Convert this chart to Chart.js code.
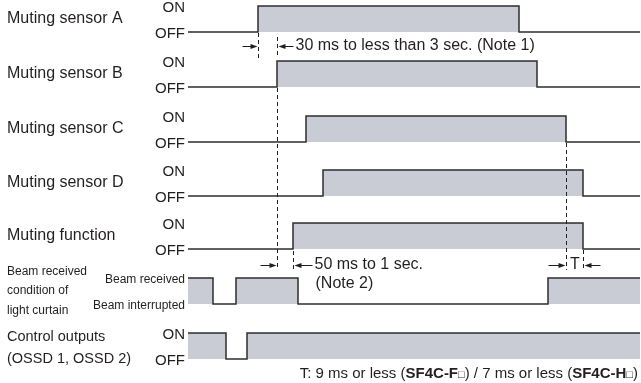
<!DOCTYPE html>
<html>
<head>
<meta charset="utf-8">
<script src="https://cdn.jsdelivr.net/npm/chart.js@4/dist/chart.umd.min.js"></script>
<style>
  html, body { margin: 0; padding: 0; background: #fff; }
  #wrap { width: 641px; height: 383px; }
</style>
</head>
<body>
<div id="wrap"><canvas id="timing"></canvas></div>
<script>
// row names (left column) and level names (next to each trace)
const rowNames = [
    'Muting sensor A', 'Muting sensor B', 'Muting sensor C', 'Muting sensor D', 'Muting function',
    ['Beam received', 'condition of', 'light curtain'],
    ['Control outputs', '(OSSD 1, OSSD 2)']
];
const levelLabels = ['ON', 'OFF', 'ON', 'OFF', 'ON', 'OFF', 'ON', 'OFF', 'ON', 'OFF',
    'Beam received', 'Beam interrupted', 'ON', 'OFF'];

// switching times of each signal (time units, 0 = start of trace)
const edgesA = [70, 331];
const edgesB = [89, 349];
const edgesC = [118, 378];
const edgesD = [135, 395];
const edgesMute = [105, 395];
const edgesBeam = [25, 48, 110, 360];
const edgesOut = [38, 59];
const signalEdges = [edgesA, edgesB, edgesC, edgesD, edgesMute, edgesBeam, edgesOut];
const startLevels = [0, 0, 0, 0, 0, 1, 1];
const traceEnd = 452;

// layout: y of the low level of each row, and height of the high level
const laneLow = [32, 87, 142, 196, 249, 304, 359];
const highStep = 26;

const FONT = "'Liberation Sans', Arial, sans-serif";
const INK = '#231f20';

const toPoints = (edges, start, low) => {
    let level = start;
    const pts = [{ x: 0, y: low - level * highStep }];
    edges.forEach(t => {
        level = 1 - level;
        pts.push({ x: t, y: low - level * highStep });
    });
    pts.push({ x: traceEnd, y: low - level * highStep });
    return pts;
};

const datasets = signalEdges.map((edges, i) => ({
    data: toPoints(edges, startLevels[i], laneLow[i]),
    stepped: true,
    borderColor: '#2e2e2e',
    borderWidth: 1.5,
    backgroundColor: '#c9cbd5',
    fill: { value: laneLow[i] },
    pointRadius: 0
}));

// dashed guide lines: [time, from y, to y]
const guides = [
    [edgesA[0], 33, 58],
    [edgesB[0], 37, 58],
    [edgesB[0], 88, 270],
    [edgesMute[0], 251, 270],
    [edgesC[1], 143, 270],
    [edgesD[1], 250, 270]
];

const drawArrow = (ctx, xTail, xHead, y) => {
    const dir = xHead > xTail ? 1 : -1;
    ctx.beginPath();
    ctx.moveTo(xTail, y);
    ctx.lineTo(xHead - dir * 5, y);
    ctx.stroke();
    ctx.beginPath();
    ctx.moveTo(xHead, y);
    ctx.lineTo(xHead - dir * 7, y - 2.5);
    ctx.lineTo(xHead - dir * 7, y + 2.5);
    ctx.closePath();
    ctx.fill();
};

const annotations = {
    id: 'annotations',
    afterDatasetsDraw(chart) {
        const { ctx, scales: { x } } = chart;
        const px = t => Math.round(x.getPixelForValue(t)) + 0.5;
        ctx.save();
        ctx.strokeStyle = INK;
        ctx.fillStyle = INK;
        ctx.lineWidth = 1;

        ctx.setLineDash([4, 3]);
        guides.forEach(([t, y0, y1]) => {
            ctx.beginPath();
            ctx.moveTo(px(t), y0);
            ctx.lineTo(px(t), y1);
            ctx.stroke();
        });
        ctx.setLineDash([]);

        // 30 ms to less than 3 sec.
        const a1 = px(edgesA[0]), b1 = px(edgesB[0]);
        drawArrow(ctx, a1 - 16, a1 - 1, 46.5);
        drawArrow(ctx, b1 + 16, b1 + 1, 46.5);
        // 50 ms to 1 sec.
        const m1 = px(edgesMute[0]);
        drawArrow(ctx, b1 - 17, b1 - 1, 265.5);
        drawArrow(ctx, m1 + 19, m1 + 1, 265.5);
        // T
        const c2 = px(edgesC[1]), d2 = px(edgesD[1]);
        drawArrow(ctx, c2 - 18, c2 - 1, 265.5);
        drawArrow(ctx, d2 + 17, d2 + 1, 265.5);

        ctx.textBaseline = 'middle';
        ctx.font = '16px ' + FONT;
        ctx.textAlign = 'left';
        ctx.fillText('30 ms to less than 3 sec. (Note 1)', b1 + 18, 46);
        ctx.fillText('50 ms to 1 sec.', m1 + 21, 265);
        ctx.fillText('(Note 2)', m1 + 22, 284);
        ctx.textAlign = 'center';
        ctx.fillText('T', (c2 + d2) / 2, 265);

        // footnote, right aligned
        const parts = [
            ['T: 9 ms or less (', '15px ' + FONT],
            ['SF4C-F', 'bold 15px ' + FONT],
            ['\u25A1', '11px ' + FONT],
            [') / 7 ms or less (', '15px ' + FONT],
            ['SF4C-H', 'bold 15px ' + FONT],
            ['\u25A1', '11px ' + FONT],
            [')', '15px ' + FONT]
        ];
        ctx.textAlign = 'left';
        ctx.textBaseline = 'alphabetic';
        let total = 0;
        parts.forEach(([s, f]) => { ctx.font = f; total += ctx.measureText(s).width; });
        let cx = 638 - total;
        parts.forEach(([s, f]) => {
            ctx.font = f;
            ctx.fillText(s, cx, 378);
            cx += ctx.measureText(s).width;
        });
        ctx.restore();
    }
};

const noPad = scale => { scale.paddingTop = 0; scale.paddingBottom = 0; };

new Chart(document.getElementById('timing'), {
    type: 'line',
    data: { datasets },
    plugins: [annotations],
    options: {
        responsive: true,
        maintainAspectRatio: false,
        animation: false,
        layout: { padding: 0 },
        plugins: { legend: { display: false }, tooltip: { enabled: false } },
        scales: {
            x: { type: 'linear', min: 0, max: traceEnd + 1, display: false },
            y: {
                position: 'left',
                weight: 0,
                min: 0, max: 383, reverse: true,
                grid: { display: false, drawTicks: false },
                border: { display: false },
                afterBuildTicks: scale => {
                    scale.ticks = laneLow.flatMap(low => [{ value: low - highStep + 2 }, { value: low + 2 }]);
                },
                afterFit: scale => { scale.width = 181; noPad(scale); },
                ticks: {
                    autoSkip: false,
                    padding: 3,
                    color: INK,
                    callback: (v, i) => levelLabels[i],
                    font: ctx => (ctx.index === 10 || ctx.index === 11)
                        ? { family: FONT, size: 12 }
                        : { family: FONT, size: 15 }
                }
            },
            names: {
                position: 'left',
                weight: 1,
                min: 0, max: 383, reverse: true,
                grid: { display: false, drawTicks: false },
                border: { display: false },
                afterBuildTicks: scale => {
                    scale.ticks = laneLow.map((low, i) => ({ value: low - highStep / 2 + (i === 6 ? 2 : 0) }));
                },
                afterFit: scale => { scale.width = 7; noPad(scale); },
                ticks: {
                    autoSkip: false,
                    mirror: true,
                    padding: 0,
                    color: INK,
                    callback: (v, i) => rowNames[i],
                    font: ctx => ctx.index === 5
                        ? { family: FONT, size: 12, lineHeight: 1.65 }
                        : ctx.index === 6
                            ? { family: FONT, size: 14.5, lineHeight: 1.45 }
                            : { family: FONT, size: 16 }
                }
            }
        }
    }
});
</script>
</body>
</html>
